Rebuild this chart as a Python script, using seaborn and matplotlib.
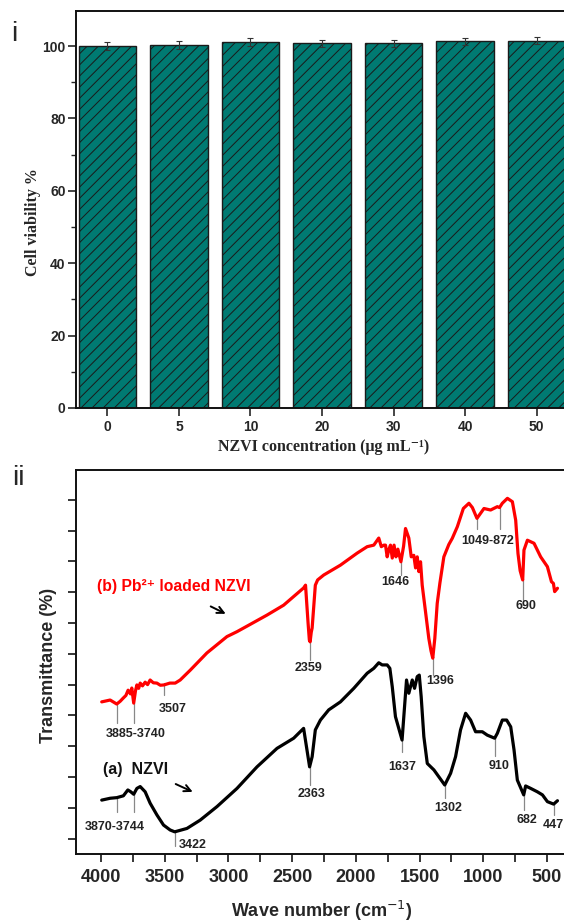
import matplotlib
matplotlib.use("Agg")
import matplotlib.pyplot as plt
import seaborn as sns
import pandas as pd

# ---------------- data: panel i (cell viability) ----------------
conc_labels = ["0", "5", "10", "20", "30", "40", "50"]
viability = [100.0, 100.4, 101.2, 100.8, 100.8, 101.3, 101.5]
viability_err = [1.0, 1.1, 1.1, 1.0, 1.0, 0.9, 1.0]

# ---------------- data: panel ii (FTIR, arbitrary transmittance units) ----------------
wn_b = [3995, 3929, 3877, 3850, 3827, 3805, 3788, 3770, 3759, 3744, 3730, 3719, 3705,
        3693, 3675, 3654, 3635, 3615, 3590, 3562, 3535, 3507, 3460, 3418, 3379, 3300,
        3169, 3012, 2933, 2854, 2697, 2567, 2410, 2395, 2375, 2365, 2359, 2350, 2343,
        2318, 2300, 2252, 2121, 1990, 1911, 1859, 1820, 1800, 1780, 1767, 1754, 1740,
        1728, 1714, 1700, 1685, 1670, 1646, 1625, 1610, 1584, 1565, 1545, 1531, 1518,
        1505, 1492, 1479, 1453, 1427, 1410, 1396, 1380, 1361, 1340, 1309, 1270, 1243,
        1203, 1156, 1112, 1085, 1049, 994, 942, 889, 872, 850, 810, 771, 745, 727, 710,
        690, 680, 653, 601, 549, 496, 464, 449, 439, 417]
t_b = [49.4, 50.0, 48.7, 49.6, 50.6, 51.5, 53.2, 52.0, 53.9, 49.0, 53.0, 54.9, 53.8,
       55.5, 54.6, 55.8, 55.0, 56.5, 55.6, 55.5, 54.8, 54.9, 55.5, 55.5, 56.5, 59.7,
       65.3, 70.6, 72.2, 74.0, 77.6, 80.8, 86.4, 87.3, 75.0, 69.5, 68.9, 72.0, 73.4,
       87.3, 89.0, 90.6, 93.8, 97.7, 99.8, 100.3, 102.6, 99.8, 100.3, 100.3, 96.5, 99.0,
       100.3, 96.1, 100.3, 96.5, 99.0, 94.9, 100.0, 105.7, 102.6, 96.5, 97.0, 92.9, 96.5,
       91.7, 94.9, 87.3, 78.7, 70.0, 66.0, 63.6, 70.0, 81.4, 88.0, 96.5, 100.5, 102.5,
       106.3, 112.2, 113.9, 112.5, 109.0, 112.2, 111.7, 112.8, 112.5, 113.9, 115.5, 114.4,
       108.4, 97.6, 92.0, 89.0, 98.7, 101.9, 100.9, 96.5, 93.3, 88.4, 87.9, 85.2, 86.3]

wn_a = [3995, 3929, 3877, 3825, 3790, 3767, 3744, 3719, 3693, 3654, 3615, 3562, 3510,
        3458, 3422, 3326, 3222, 3090, 2933, 2776, 2619, 2488, 2410, 2363, 2343, 2318,
        2278, 2213, 2121, 2016, 1911, 1859, 1820, 1793, 1754, 1733, 1714, 1689, 1637,
        1602, 1584, 1557, 1539, 1518, 1502, 1487, 1466, 1439, 1387, 1302, 1256, 1217,
        1178, 1138, 1099, 1060, 1007, 968, 910, 889, 850, 816, 784, 758, 732, 682, 667,
        627, 575, 535, 496, 447, 417]
t_a = [17.5, 18.1, 18.3, 18.9, 20.8, 20.2, 19.4, 21.3, 21.9, 20.2, 16.5, 12.7, 9.4,
       7.8, 7.2, 8.3, 11.0, 15.4, 21.3, 28.3, 34.3, 37.6, 40.8, 28.3, 31.6, 40.3,
       43.5, 46.8, 49.4, 53.8, 58.7, 60.3, 62.1, 61.4, 61.4, 60.3, 54.3, 44.6, 37.0,
       56.5, 52.2, 56.5, 53.8, 57.6, 58.1, 51.1, 38.1, 29.4, 27.3, 22.4, 26.2, 31.6,
       40.3, 45.7, 43.5, 39.7, 39.7, 38.6, 37.6, 39.2, 43.5, 43.5, 41.3, 33.8, 24.0,
       19.2, 22.1, 21.3, 20.2, 19.2, 17.0, 16.2, 17.3]

# peak annotations: label and marked wavenumbers
peak_b_labels = ["3885-3740", "3507", "2359", "1646", "1396", "1049-872", "690"]
peak_b_wn = [[3877, 3744], [3507], [2359], [1646], [1396], [1049, 872], [690]]
peak_a_labels = ["3870-3744", "3422", "2363", "1637", "1302", "910", "682", "447"]
peak_a_wn = [[3877, 3744], [3422], [2363], [1637], [1302], [910], [682], [447]]

# ---------------- layout (positions in data units) ----------------
# (line tops, line bottom, text x, text y) for each annotation
ann_b = [([48.4, 49.0], 42.5, 3725, 39.0), ([55.5], 51.6, 3434, 47.1),
         ([68.9], 63.0, 2373, 60.5), ([94.9], 90.6, 1689, 88.3),
         ([63.6], 58.1, 1335, 56.2), ([109.0, 112.5], 105.5, 968, 101.6),
         ([89.0], 82.5, 667, 80.5)]
ann_a = [([18.3, 19.4], 13.6, 3894, 8.9), ([7.2], 2.6, 3277, 2.9),
         ([28.3], 22.4, 2351, 19.5), ([37.0], 33.1, 1636, 28.3),
         ([22.4], 18.2, 1274, 14.8), ([37.6], 31.8, 876, 28.6),
         ([19.2], 14.3, 659, 11.0), ([16.2], 12.7, 446, 9.4)]

sns.set_theme(style="ticks")
plt.rcParams["font.family"] = ["Liberation Sans", "DejaVu Sans"]
plt.rcParams["hatch.linewidth"] = 0.7
plt.rcParams["hatch.color"] = "#102020"

fig = plt.figure(figsize=(5.64, 9.24), dpi=100)
W, H = 564, 924
ax1 = fig.add_axes([76 / W, 1 - 408 / H, 492 / W, 397 / H])
ax2 = fig.add_axes([76 / W, 1 - 854 / H, 490 / W, 384 / H])

# ---------------- panel i ----------------
teal = "#007a72"
df = pd.DataFrame({"conc": conc_labels, "viab": viability})
sns.barplot(data=df, x="conc", y="viab", order=conc_labels, color=teal, saturation=1,
            edgecolor="#1a1a1a", linewidth=1.0, hatch="///", errorbar=None, width=0.8, ax=ax1)
ax1.errorbar(range(len(conc_labels)), viability, yerr=viability_err, fmt="none",
             ecolor="#333333", elinewidth=0.8, capsize=2.5, capthick=0.8)
ax1.set_xlim(-0.44, 6.44)
ax1.set_ylim(0, 109.7)
ax1.set_yticks([0, 20, 40, 60, 80, 100])
ax1.set_yticks([10, 30, 50, 70, 90], minor=True)
ax1.tick_params(axis="y", which="major", length=5.5, width=1.2, direction="out", pad=2,
                labelsize=10)
ax1.tick_params(axis="y", which="minor", length=3.5, width=1.0, direction="out", left=True)
ax1.tick_params(axis="x", length=5.5, width=1.2, direction="out", pad=3, labelsize=10)
for lab in ax1.get_xticklabels() + ax1.get_yticklabels():
    lab.set_fontweight("bold")
for s in ax1.spines.values():
    s.set_linewidth(1.4)
    s.set_color("#111111")
ax1.set_ylabel("Cell viability %", fontfamily=["Liberation Serif", "DejaVu Serif"],
               fontweight="bold", fontsize=11.5, va="center", ha="center")
ax1.yaxis.set_label_coords(-0.088, 0.468)
ax1.set_xlabel("NZVI concentration (μg mL⁻¹)", fontfamily=["Liberation Serif", "DejaVu Serif"],
               fontweight="bold", fontsize=11.5, va="center", ha="center")
ax1.xaxis.set_label_coords(0.504, -0.098)

# ---------------- panel ii ----------------
sns.lineplot(x=wn_b, y=t_b, sort=False, estimator=None, color="#ff0000", lw=2.3, ax=ax2)
sns.lineplot(x=wn_a, y=t_a, sort=False, estimator=None, color="black", lw=2.3, ax=ax2)
ax2.set_xlim(4197, 350)
ax2.set_ylim(0, 124.7)
ax2.set_xticks([4000, 3500, 3000, 2500, 2000, 1500, 1000, 500])
ax2.set_xticks([3750, 3250, 2750, 2250, 1750, 1250, 750], minor=True)
ax2.set_yticks([5 + 10 * k for k in range(12)])
ax2.set_yticklabels([])
ax2.tick_params(axis="x", which="both", length=5.5, width=1.3, direction="out", pad=5,
                labelsize=13, bottom=True)
ax2.tick_params(axis="y", length=5.5, width=1.3, direction="out", left=True)
for lab in ax2.get_xticklabels():
    lab.set_fontweight("bold")
for s in ax2.spines.values():
    s.set_linewidth(1.4)
    s.set_color("#111111")
ax2.set_xlabel("Wave number (cm$^{-1}$)", fontweight="bold", fontsize=13,
               va="center", ha="center")
ax2.xaxis.set_label_coords(0.502, -0.148)
ax2.set_ylabel("Transmittance (%)", fontweight="bold", fontsize=13, va="center", ha="center")
ax2.yaxis.set_label_coords(-0.057, 0.49)


def annotate(ax, labels, wns, anns):
    for lab, wl, (tops, bot, tx, ty) in zip(labels, wns, anns):
        for w, top in zip(wl, tops):
            ax.plot([w, w], [top, bot], color="#888888", lw=0.9, zorder=1)
        ax.text(tx, ty, lab, ha="center", va="center", fontsize=9, fontweight="bold",
                color="#222222", clip_on=False)


annotate(ax2, peak_b_labels, peak_b_wn, ann_b)
annotate(ax2, peak_a_labels, peak_a_wn, ann_a)

ax2.text(4031, 87.0, "(b) Pb²⁺ loaded NZVI", color="#ff0000", fontsize=11.3, fontweight="bold",
         ha="left", va="center", family=["Liberation Sans", "DejaVu Sans"])
ax2.annotate("", xy=(3002, 77.6), xytext=(3159, 80.8),
             arrowprops=dict(arrowstyle="->", color="black", lw=1.4))
ax2.text(3984, 27.3, "(a)  NZVI", color="#111111", fontsize=11.5, fontweight="bold",
         ha="left", va="center")
ax2.annotate("", xy=(3261, 19.8), xytext=(3434, 23.1),
             arrowprops=dict(arrowstyle="->", color="black", lw=1.4))

fig.text(14 / W, 1 - 34 / H, "i", fontsize=20, ha="center", va="center")
fig.text(18 / W, 1 - 478 / H, "ii", fontsize=20, ha="center", va="center")

fig.savefig("out.png", dpi=100)
